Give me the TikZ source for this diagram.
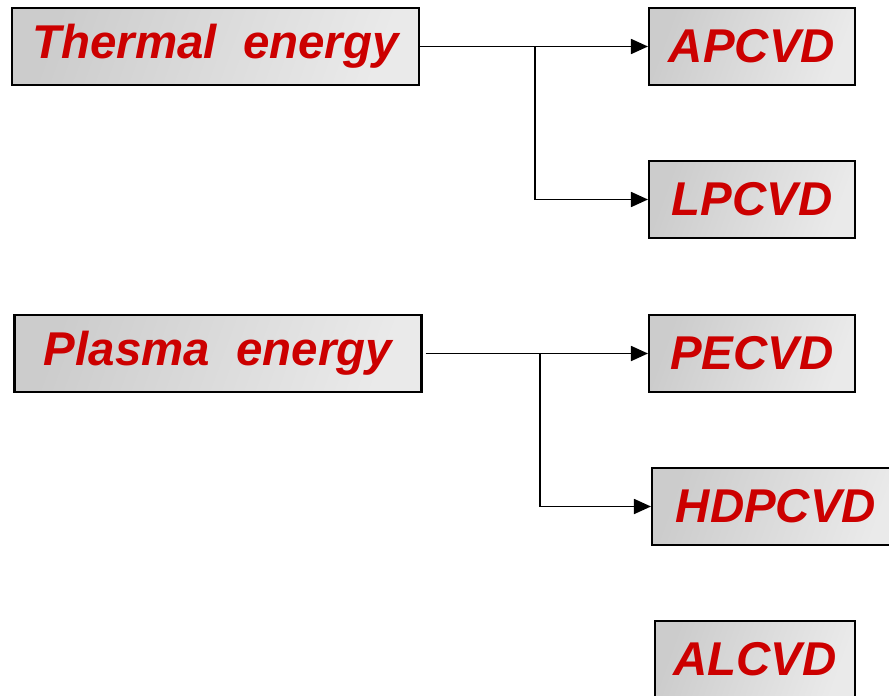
\documentclass[tikz,border=0pt]{standalone}
\usepackage{fontspec}
\setmainfont{Liberation Sans}
\usepackage{xcolor}
\definecolor{cvdred}{RGB}{204,0,0}
\definecolor{boxdark}{RGB}{204,204,204}
\definecolor{boxlight}{RGB}{234,234,234}
\usetikzlibrary{arrows.meta,positioning,calc}

\begin{document}
\begin{tikzpicture}[x=0.02cm,y=-0.02cm,
        src/.style={draw,line width=1.2pt,left color=boxdark,right color=boxlight,shading angle=70,
            minimum width=8.14cm,minimum height=1.54cm,inner sep=0pt,
            text=cvdred,font=\fontsize{27}{32}\selectfont\bfseries\itshape},
        cvd/.style={src,minimum width=4.12cm},
        arrow/.style={line width=1pt,-{Triangle[length=0.34cm,width=0.3cm]}},
    ]
    \useasboundingbox (0,0) rectangle (889,696);
    \clip (0,0) rectangle (889,696);

    \node[src] (thermal) at (215.5,46.5) {Thermal~ energy};
    \node[src] (plasma)  at (218,353.5)  {Plasma~ energy};

    \node[cvd] (apcvd)  at (752,46.5)  {APCVD};
    \node[cvd] (lpcvd)  at (752,199.5) {LPCVD};
    \node[cvd] (pecvd)  at (752,353.5) {PECVD};
    \node[cvd,minimum width=4.96cm] (hdpcvd) at (776,506.5) {HDPCVD};
    \node[cvd,minimum width=4.0cm]  (alcvd)  at (755,659.5) {ALCVD};

    \coordinate (tbranch) at (535,46.5);
    \coordinate (pbranch) at (540,353.5);

    \draw[arrow] (thermal.east) -- (apcvd.west);
    \draw[arrow] (tbranch) |- (lpcvd.west);
    \draw[arrow,shorten <=0.06cm] (plasma.east) -- (pecvd.west);
    \draw[arrow] (pbranch) |- (hdpcvd.west);
\end{tikzpicture}
\end{document}
